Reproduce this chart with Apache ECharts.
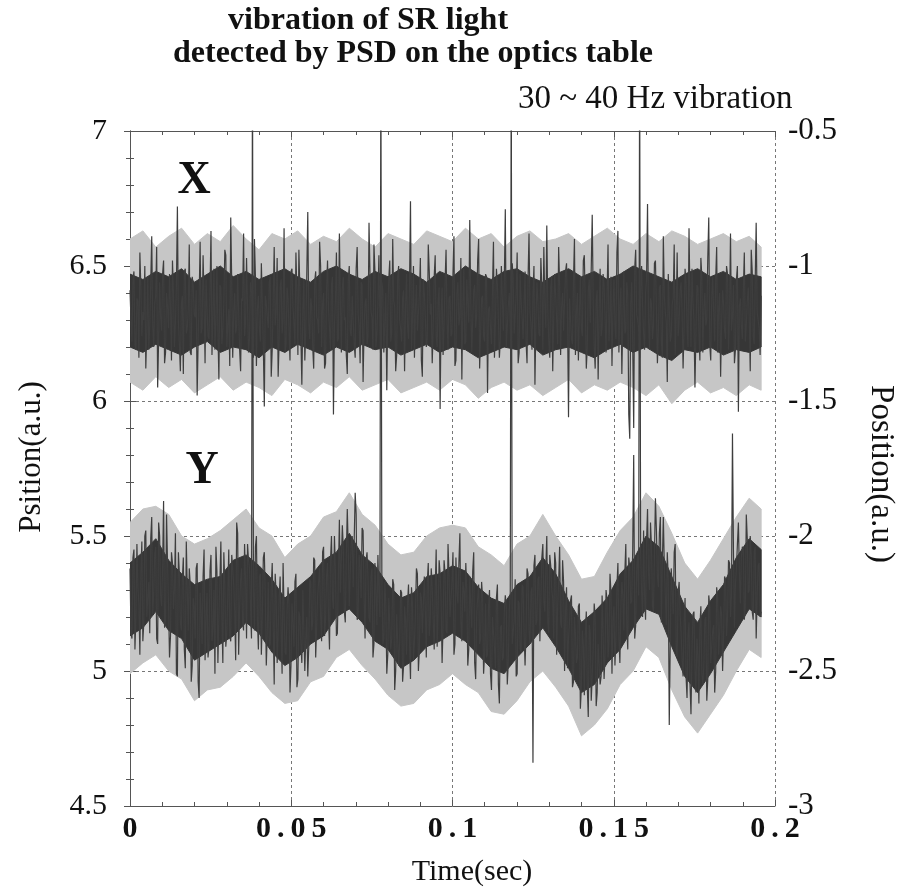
<!DOCTYPE html>
<html>
<head>
<meta charset="utf-8">
<script src="https://cdn.jsdelivr.net/npm/echarts@6/dist/echarts.min.js"></script>
<style>
html,body{margin:0;padding:0;background:#fff;}
#chart{width:901px;height:889px;}
</style>
</head>
<body>
<div id="chart"></div>
<script>
// ---- data ----
const sampleInterval = 0.00030625; // seconds between plotted samples
const envStep = 0.004;              // seconds between envelope readings
const xTicks = [0, 0.05, 0.1, 0.15, 0.2];
const leftTicks = [4.5, 5, 5.5, 6, 6.5, 7];
const rightTicks = [-3, -2.5, -2, -1.5, -1, -0.5];

// X position signal (left axis): even-numbered samples
const xSignalEven = [
6.41,6.22,6.48,6.19,6.37,6.55,6.24,6.30,6.12,6.46,6.28,6.61,6.20,6.39,6.05,6.44,6.26,6.52,6.18,6.35,
6.47,6.15,6.40,6.29,6.72,6.21,6.36,6.10,6.49,6.27,6.58,6.17,6.43,6.31,6.02,6.38,6.25,6.54,6.14,6.45,
6.23,6.63,6.32,6.19,6.50,6.08,6.42,6.26,6.56,6.20,6.34,6.68,6.16,6.40,6.28,6.47,6.11,6.37,6.24,6.53,
6.18,6.44,6.30,6.60,6.13,6.39,6.22,6.51,5.98,6.36,6.27,6.46,6.19,6.57,6.33,6.09,6.42,6.25,6.64,6.21,
6.38,6.15,6.49,6.29,6.55,6.17,6.41,6.06,6.45,6.26,6.70,6.23,6.35,6.12,6.48,6.30,6.59,6.20,6.40,6.14,
6.52,6.27,6.43,5.95,6.37,6.22,6.62,6.18,6.46,6.31,6.10,6.50,6.24,6.39,6.16,6.57,6.28,6.44,6.07,6.36,
6.21,6.66,6.33,6.19,6.48,6.25,6.54,6.13,6.41,6.29,6.04,6.45,6.22,6.60,6.35,6.17,6.50,6.27,6.38,6.11,
6.47,6.23,6.74,6.30,6.16,6.43,6.26,6.53,6.09,6.40,6.20,6.58,6.32,6.14,6.46,6.24,6.37,5.97,6.42,6.28,
6.56,6.19,6.39,6.25,6.61,6.15,6.44,6.31,6.08,6.49,6.22,6.36,6.67,6.18,6.41,6.27,6.52,6.12,6.38,6.24,
6.47,6.03,6.35,6.21,6.59,6.29,6.43,6.16,6.50,6.26,6.71,6.20,6.40,6.10,6.45,6.32,6.55,6.18,6.37,6.23,
6.48,6.14,6.62,6.28,6.39,6.06,6.44,6.25,6.53,6.19,6.36,6.65,6.22,6.42,6.11,6.47,6.30,6.57,6.17,6.40,
6.26,6.51,5.94,6.38,6.21,6.60,6.33,6.15,6.46,6.24,6.54,6.12,6.41,6.29,6.69,6.20,6.37,6.08,6.49,6.27,
6.43,6.18,6.58,6.31,6.13,6.45,6.23,6.63,6.35,6.10,6.48,6.26,6.39,5.86,6.44,5.90,6.56,6.30,6.16,6.50,
6.25,6.40,6.73,6.19,6.36,6.28,6.52,6.14,6.42,6.22,6.61,6.33,6.07,6.47,6.24,6.38,6.17,6.55,6.29,6.44,
6.12,6.49,6.27,6.64,6.20,6.37,6.05,6.43,6.25,6.53,6.18,6.40,6.30,6.68,6.15,6.46,6.22,6.57,6.34,6.09,
6.41,6.26,6.50,6.19,6.62,6.31,6.14,6.45,5.96,6.38,6.23,6.55,6.28,6.42,6.11,6.48,6.21,6.66,6.33,6.17
];
// X position signal: odd-numbered samples
const xSignalOdd = [
6.30,6.45,6.21,6.38,6.16,6.42,6.33,6.50,6.26,6.19,6.44,6.28,6.36,6.57,6.23,6.31,6.47,6.14,6.40,6.27,
6.35,6.52,6.20,6.43,6.29,6.11,6.39,6.48,6.25,6.34,6.18,6.46,6.32,6.41,6.22,6.59,6.27,6.37,6.45,6.24,
6.40,6.17,6.49,6.30,6.26,6.43,6.21,6.36,6.54,6.28,6.13,6.44,6.33,6.25,6.47,6.19,6.38,6.62,6.29,6.35,
6.23,6.41,6.16,6.46,6.34,6.27,6.51,6.20,6.39,6.31,6.44,6.09,6.37,6.28,6.53,6.22,6.45,6.30,6.18,6.42,
6.26,6.48,6.35,6.21,6.40,6.56,6.24,6.33,6.15,6.47,6.29,6.38,6.20,6.44,6.31,6.25,6.50,6.36,6.12,6.41,
6.34,6.19,6.46,6.28,6.55,6.23,6.37,6.42,6.30,6.17,6.45,6.26,6.39,6.21,6.49,6.32,6.14,6.43,6.27,6.38,
6.24,6.47,6.31,6.58,6.20,6.36,6.29,6.44,6.18,6.40,6.33,6.52,6.25,6.37,6.11,6.46,6.30,6.22,6.41,6.35,
6.28,6.43,6.19,6.50,6.34,6.26,6.39,6.15,6.45,6.31,6.23,6.48,6.36,6.27,6.54,6.20,6.42,6.33,6.17,6.44,
6.30,6.38,6.24,6.47,6.13,6.40,6.28,6.53,6.35,6.21,6.45,6.29,6.37,6.18,6.43,6.32,6.60,6.25,6.39,6.22,
6.46,6.34,6.27,6.41,6.16,6.49,6.30,6.23,6.38,6.44,6.20,6.35,6.28,6.51,6.25,6.40,6.14,6.47,6.31,6.36,
6.22,6.45,6.33,6.19,6.50,6.29,6.37,6.24,6.42,6.57,6.27,6.34,6.16,6.46,6.31,6.39,6.21,6.43,6.35,6.26,
6.48,6.30,6.38,6.23,6.44,6.17,6.40,6.32,6.27,6.52,6.35,6.20,6.45,6.29,6.37,6.12,6.41,6.33,6.24,6.47,
6.31,6.39,6.22,6.46,6.34,6.28,6.55,6.18,6.42,6.30,6.25,6.44,5.95,6.36,6.21,6.49,6.32,6.27,6.40,6.35,
6.19,6.45,6.30,6.38,6.23,6.51,6.34,6.26,6.43,6.16,6.39,6.29,6.47,6.22,6.36,6.58,6.31,6.24,6.41,6.33,
6.27,6.44,6.20,6.37,6.49,6.30,6.25,6.42,6.15,6.46,6.34,6.28,6.53,6.21,6.38,6.32,6.45,6.18,6.40,6.29,
6.36,6.23,6.47,6.31,6.26,6.43,6.19,6.50,6.35,6.28,6.41,6.22,6.37,6.30,6.56,6.24,6.44,6.33,6.27,6.39
];

// Y position signal (left axis): even-numbered samples
const ySignalEven = [
5.38,5.12,5.45,5.20,5.31,5.06,5.48,5.18,5.52,5.27,
5.14,5.57,5.29,5.46,5.10,5.50,5.24,5.63,5.19,5.40,
5.05,5.44,5.23,5.51,4.98,5.36,5.15,5.42,5.01,5.30,
5.38,4.96,5.27,5.12,5.40,4.90,5.22,5.35,5.04,5.29,
5.09,5.43,5.16,4.99,5.37,5.20,5.48,5.03,5.32,5.14,
5.45,5.11,5.38,5.22,5.55,5.06,5.34,5.18,5.47,5.12,
5.41,5.24,7.30,5.15,5.50,5.08,5.36,5.21,5.44,5.02,
5.33,5.10,5.40,4.95,5.28,5.14,5.35,4.99,5.22,5.06,
5.31,4.92,5.25,5.09,5.36,4.97,5.20,5.03,5.30,5.12,
4.98,5.34,5.15,5.42,5.05,5.28,5.38,5.11,5.46,5.19,
5.40,5.08,5.50,5.23,5.37,5.14,5.56,5.29,5.45,5.18,
5.60,5.24,5.48,5.31,5.66,5.19,5.43,5.27,5.52,5.12,
5.44,5.20,5.35,5.05,5.40,5.17,5.29,7.30,5.10,5.33,
4.99,5.27,5.08,5.34,4.93,5.21,5.02,5.30,4.96,5.24,
5.06,5.32,4.97,5.25,5.11,5.38,5.00,5.29,5.14,5.35,
5.05,5.40,5.18,5.31,5.08,5.45,5.22,5.36,5.03,5.41,
5.15,5.47,5.20,5.33,5.06,5.42,5.25,5.51,5.11,5.30,
5.40,5.02,5.35,5.16,5.44,4.97,5.27,5.10,5.33,4.99,
5.25,5.06,5.30,4.93,5.20,5.01,5.32,4.88,5.17,5.05,
5.28,4.95,5.22,7.30,5.10,5.34,4.99,5.25,5.07,5.31,
5.02,5.38,5.15,5.29,4.66,5.43,5.19,5.35,5.11,5.47,
5.22,5.50,5.14,5.39,5.27,5.44,5.06,5.33,5.18,5.41,
5.00,5.31,5.12,5.26,4.94,5.20,5.03,5.24,4.86,5.15,
4.91,5.22,4.83,5.14,4.98,5.25,4.87,5.10,4.95,5.28,
4.97,5.30,5.05,5.36,4.99,5.24,5.12,5.40,5.03,5.33,
5.15,5.47,5.08,5.38,5.26,5.80,5.17,5.43,7.30,5.29,
5.52,5.19,5.60,5.30,5.46,5.22,5.64,5.35,5.51,5.18,
5.57,5.28,5.44,4.80,5.38,5.21,5.47,5.05,5.33,5.14,
4.98,5.27,4.90,5.18,4.84,5.21,5.01,5.12,4.88,5.24,
4.95,5.19,4.89,5.28,5.03,5.15,4.92,5.31,5.06,5.24,
5.00,5.35,5.13,5.41,5.20,5.88,5.16,5.38,5.55,5.25,
5.46,5.19,5.58,5.29,5.50,5.22,5.44,5.12,5.39,5.20
];
// Y position signal: odd-numbered samples
const ySignalOdd = [
5.14,5.42,5.08,5.47,5.25,5.36,5.11,5.50,5.20,5.33,
5.49,5.21,5.43,5.12,5.55,5.28,5.38,5.16,5.58,5.25,
5.13,5.40,5.30,4.99,5.44,5.18,5.34,5.08,5.48,5.15,
5.32,5.02,5.24,5.38,4.96,5.29,5.10,5.45,5.20,5.05,
5.37,5.11,5.30,5.46,5.03,5.33,5.20,5.44,5.09,5.28,
5.13,5.43,5.32,5.04,5.51,5.24,5.38,5.15,5.34,5.47,
5.38,5.12,5.30,5.46,5.19,5.35,5.06,5.42,5.27,5.14,
5.09,5.31,5.18,5.36,5.03,5.27,5.15,5.40,5.07,5.22,
5.25,5.02,5.18,5.33,4.94,5.22,5.10,5.30,5.00,5.20,
5.09,5.33,5.18,5.41,5.05,5.28,5.20,5.44,5.13,5.35,
5.20,5.41,5.27,5.50,5.13,5.35,5.29,5.54,5.22,5.42,
5.45,5.24,5.50,5.31,5.58,5.20,5.39,5.53,5.27,5.41,
5.34,5.18,5.38,5.10,5.29,5.43,5.20,5.35,5.12,5.25,
5.06,5.27,5.12,5.32,5.00,5.21,5.10,5.29,5.02,5.19,
5.25,5.10,5.31,5.04,5.21,5.36,5.08,5.27,5.14,5.23,
5.33,5.13,5.38,5.19,5.30,5.09,5.41,5.26,5.17,5.36,
5.14,5.36,5.20,5.44,5.10,5.29,5.40,5.18,5.33,5.22,
5.29,5.08,5.24,5.37,5.03,5.21,5.32,5.12,5.27,5.06,
5.05,5.24,4.99,5.20,5.09,5.27,4.95,5.16,5.04,5.22,
5.24,5.03,5.29,5.10,5.19,4.98,5.26,5.08,5.32,5.14,
5.15,5.36,5.10,5.31,5.39,5.17,5.34,5.11,5.42,5.26,
5.38,5.18,5.43,5.30,5.12,5.40,5.24,5.46,5.16,5.33,
5.22,5.01,5.18,5.28,4.96,5.14,5.05,5.25,4.94,5.10,
5.13,4.94,5.17,4.89,5.08,5.20,4.92,5.10,4.98,5.15,
5.06,5.26,5.11,5.29,5.19,5.02,5.31,5.12,5.24,5.28,
5.36,5.16,5.42,5.25,5.45,5.12,5.38,5.28,5.44,5.20,
5.28,5.48,5.36,5.55,5.24,5.43,5.52,5.31,5.57,5.40,
5.39,5.17,5.34,5.10,5.30,5.44,5.08,5.29,5.21,5.04,
5.18,4.98,5.13,4.95,5.07,5.22,4.92,5.06,5.16,4.99,
5.02,5.20,4.97,5.24,5.09,5.17,5.00,5.27,5.14,5.21,
5.13,5.34,5.20,5.40,5.28,5.44,5.32,5.47,5.36,5.42,
5.45,5.24,5.49,5.30,5.43,5.19,5.46,5.28,5.40,5.22
];

// edges of the solid dark core of each trace (read every 0.004 s)
const xCoreHigh = [6.47,6.45,6.48,6.46,6.49,6.44,6.47,6.50,6.46,6.48,6.45,6.47,6.49,6.46,6.44,6.48,6.50,6.47,6.45,6.48,6.46,6.49,6.47,6.44,6.48,6.46,6.50,6.47,6.45,6.48,6.49,6.46,6.44,6.47,6.49,6.46,6.48,6.45,6.47,6.50,6.48,6.46,6.44,6.47,6.49,6.46,6.48,6.45,6.47,6.46];
const xCoreLow  = [6.20,6.18,6.21,6.19,6.17,6.20,6.22,6.18,6.20,6.19,6.16,6.20,6.18,6.21,6.19,6.17,6.20,6.18,6.21,6.19,6.20,6.17,6.19,6.21,6.18,6.20,6.19,6.16,6.18,6.20,6.19,6.21,6.17,6.19,6.20,6.18,6.16,6.19,6.21,6.18,6.20,6.17,6.15,6.19,6.18,6.20,6.17,6.19,6.18,6.20];
const yCoreHigh = [5.40,5.44,5.49,5.41,5.36,5.32,5.34,5.35,5.41,5.43,5.39,5.34,5.27,5.31,5.35,5.41,5.44,5.51,5.43,5.39,5.32,5.27,5.29,5.35,5.36,5.39,5.37,5.31,5.27,5.25,5.32,5.35,5.42,5.36,5.26,5.18,5.22,5.27,5.36,5.41,5.50,5.46,5.35,5.24,5.18,5.26,5.32,5.42,5.49,5.45];
const yCoreLow  = [5.13,5.16,5.22,5.15,5.12,5.04,5.07,5.10,5.13,5.18,5.14,5.07,5.02,5.05,5.10,5.13,5.20,5.23,5.18,5.11,5.08,5.01,5.04,5.09,5.11,5.14,5.11,5.06,5.01,4.99,5.05,5.10,5.16,5.09,5.01,4.92,4.95,5.03,5.08,5.16,5.23,5.21,5.09,4.98,4.92,4.99,5.07,5.15,5.23,5.20];
// edges of the dense grey fringe around each core (read every 0.004 s)
const xFringeHigh = [6.60,6.63,6.57,6.61,6.64,6.58,6.62,6.59,6.65,6.60,6.56,6.62,6.60,6.63,6.58,6.61,6.59,6.64,6.60,6.57,6.62,6.60,6.58,6.63,6.61,6.59,6.64,6.60,6.62,6.57,6.61,6.63,6.59,6.60,6.62,6.58,6.61,6.64,6.60,6.58,6.62,6.59,6.63,6.61,6.58,6.60,6.62,6.59,6.61,6.57];
const xFringeLow  = [6.07,6.04,6.09,6.05,6.08,6.03,6.06,6.09,6.04,6.07,6.05,6.02,6.08,6.06,6.03,6.07,6.05,6.09,6.04,6.06,6.08,6.03,6.05,6.07,6.04,6.08,6.06,6.01,6.05,6.07,6.04,6.06,6.02,6.05,6.08,6.03,6.06,6.04,6.07,6.05,6.02,6.06,5.99,6.04,6.07,6.03,6.05,6.02,6.06,6.04];
const yFringeHigh = [5.55,5.60,5.61,5.58,5.50,5.47,5.49,5.52,5.56,5.60,5.53,5.50,5.42,5.47,5.50,5.57,5.59,5.66,5.58,5.54,5.47,5.43,5.44,5.50,5.53,5.54,5.53,5.46,5.43,5.39,5.47,5.50,5.58,5.50,5.43,5.34,5.35,5.44,5.52,5.57,5.66,5.61,5.51,5.40,5.34,5.41,5.49,5.57,5.64,5.60];
const yFringeLow  = [4.99,5.03,5.06,5.00,4.97,4.89,4.93,4.94,4.98,5.03,4.98,4.92,4.88,4.89,4.96,4.98,5.05,5.08,5.02,4.97,4.91,4.87,4.88,4.93,4.95,4.99,4.95,4.92,4.85,4.84,4.89,4.96,5.00,4.94,4.87,4.76,4.80,4.86,4.95,5.00,5.09,5.05,4.93,4.83,4.77,4.84,4.91,5.00,5.08,5.05];

// merge even/odd samples into [time, value] pairs in sampling order
function toPairs(even, odd){
  const out = [];
  for (let i = 0; i < even.length; i++){
    out.push([(2*i)*sampleInterval, even[i]]);
    if (i < odd.length) out.push([(2*i+1)*sampleInterval, odd[i]]);
  }
  return out;
}
// a filled band between two envelopes, placed through the axes
function bandSeries(high, low, color, z){
  return {
    type:'custom', xAxisIndex:0, yAxisIndex:0, z:z, silent:true, clip:true,
    data:[[0, low[0]]],
    renderItem:function(params, api){
      const pts = [];
      for (let i = 0; i < high.length; i++) pts.push(api.coord([Math.min(i*envStep, 0.1957), high[i]]));
      for (let i = low.length-1; i >= 0; i--) pts.push(api.coord([Math.min(i*envStep, 0.1957), low[i]]));
      return {type:'polygon', shape:{points:pts}, style:{fill:color, stroke:color, lineWidth:1}};
    }
  };
}

const serif = '"Liberation Serif", "DejaVu Serif", serif';
const chart = echarts.init(document.getElementById('chart'), null, {renderer:'canvas'});

const axisLineStyle = {color:'#555', width:1};
const gridLineStyle = {color:'#777', width:1, type:[3,3]};
const thin = '\u2009';

chart.setOption({
  animation:false,
  backgroundColor:'#fff',
  grid:{left:130, right:126, top:131, bottom:83, containLabel:false},
  graphic:[
    {type:'text', x:228, y:21, style:{text:'vibration of SR light', font:'bold 32px '+serif, fill:'#111', textVerticalAlign:'middle'}},
    {type:'text', x:173, y:54, style:{text:'detected by PSD on the optics table', font:'bold 32px '+serif, fill:'#111', textVerticalAlign:'middle'}},
    {type:'text', x:518, y:99, style:{text:'30 ~ 40 Hz vibration', font:'33px '+serif, fill:'#111', textVerticalAlign:'middle'}},
    {type:'text', x:194, y:181, z:10, style:{text:'X', font:'bold 46px '+serif, fill:'#111', textAlign:'center', textVerticalAlign:'middle'}},
    {type:'text', x:202, y:471, z:10, style:{text:'Y', font:'bold 46px '+serif, fill:'#111', textAlign:'center', textVerticalAlign:'middle'}},
    {type:'text', x:472, y:872, style:{text:'Time(sec)', font:'30px '+serif, fill:'#111', textAlign:'center', textVerticalAlign:'middle'}},
    {type:'text', x:32, y:457, rotation:Math.PI/2, style:{text:'Psition(a.u.)', font:'31px '+serif, fill:'#111', textAlign:'center', textVerticalAlign:'middle'}},
    {type:'text', x:881, y:474, rotation:-Math.PI/2, style:{text:'Position(a.u.)', font:'33px '+serif, fill:'#111', textAlign:'center', textVerticalAlign:'middle'}}
  ],
  xAxis:[
    {type:'value', min:xTicks[0], max:xTicks[xTicks.length-1], interval:0.05, position:'bottom',
     axisLine:{show:true, lineStyle:axisLineStyle},
     axisTick:{show:true, inside:true, length:6, lineStyle:axisLineStyle},
     minorTick:{show:true, splitNumber:5, length:4, lineStyle:axisLineStyle},
     splitLine:{show:true, lineStyle:gridLineStyle},
     axisLabel:{color:'#111', fontFamily:serif, fontWeight:'bold', fontSize:30, margin:8,
       formatter:function(v){
         const r = +(+v).toFixed(2);
         return xTicks.indexOf(r)>=0 ? String(r).split('').join(thin) : '';
       }}
    },
    {type:'value', min:xTicks[0], max:xTicks[xTicks.length-1], interval:0.05, position:'top',
     axisLine:{show:true, lineStyle:axisLineStyle},
     axisTick:{show:true, inside:true, length:6, lineStyle:axisLineStyle},
     minorTick:{show:true, splitNumber:5, length:4, lineStyle:axisLineStyle},
     splitLine:{show:false}, axisLabel:{show:false}
    }
  ],
  yAxis:[
    {type:'value', min:leftTicks[0], max:leftTicks[leftTicks.length-1], interval:0.5, position:'left',
     axisLine:{show:true, lineStyle:axisLineStyle},
     axisTick:{show:true, inside:true, length:6, lineStyle:axisLineStyle},
     minorTick:{show:true, splitNumber:5, length:4, lineStyle:axisLineStyle},
     splitLine:{show:true, lineStyle:gridLineStyle},
     axisLabel:{color:'#111', fontFamily:serif, fontSize:30, margin:23}
    },
    {type:'value', min:rightTicks[0], max:rightTicks[rightTicks.length-1], interval:0.5, position:'right',
     axisLine:{show:true, lineStyle:axisLineStyle},
     axisTick:{show:true, inside:true, length:6, lineStyle:axisLineStyle},
     minorTick:{show:true, splitNumber:5, length:4, lineStyle:axisLineStyle},
     splitLine:{show:false},
     axisLabel:{color:'#111', fontFamily:serif, fontSize:31, margin:13}
    }
  ],
  series:[
    bandSeries(xFringeHigh, xFringeLow, '#c6c6c6', 1),
    bandSeries(yFringeHigh, yFringeLow, '#c6c6c6', 1),
    bandSeries(xCoreHigh, xCoreLow, '#363636', 2),
    bandSeries(yCoreHigh, yCoreLow, '#363636', 2),
    {name:'X', type:'line', xAxisIndex:0, yAxisIndex:0, z:3, data:toPairs(xSignalEven, xSignalOdd), showSymbol:false, symbol:'none',
     sampling:false, clip:true, lineStyle:{color:'#3e3e3e', width:1.2}},
    {name:'Y', type:'line', xAxisIndex:0, yAxisIndex:0, z:3, data:toPairs(ySignalEven, ySignalOdd), showSymbol:false, symbol:'none',
     sampling:false, clip:true, lineStyle:{color:'#3e3e3e', width:1.2}}
  ]
});
</script>
</body>
</html>
